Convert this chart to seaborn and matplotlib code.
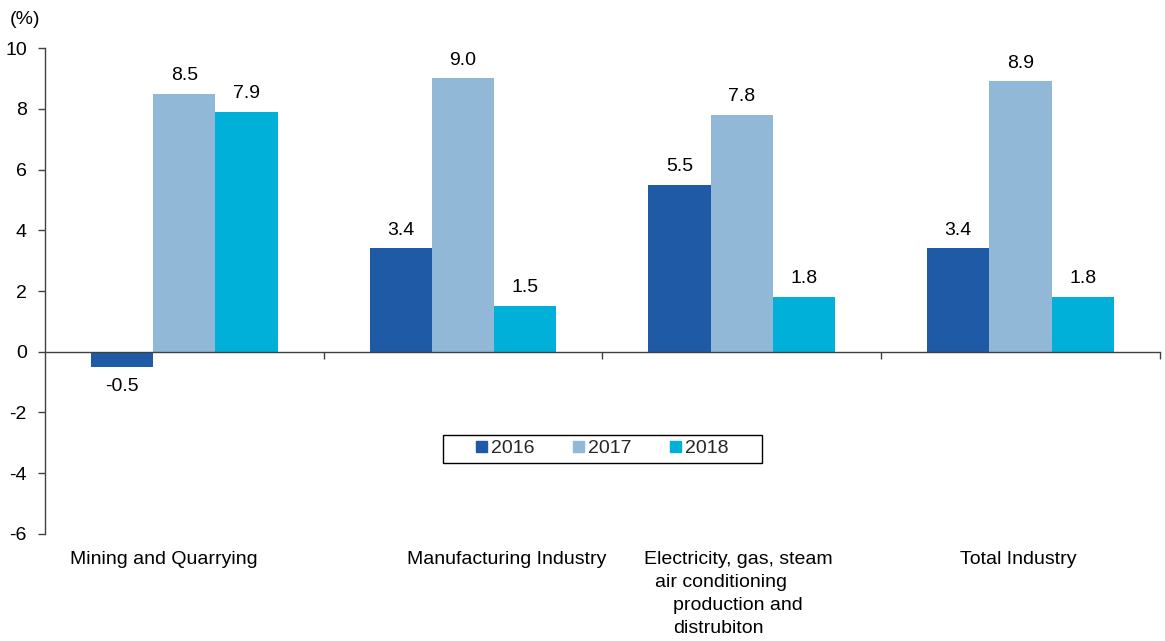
import numpy as np
import pandas as pd
import matplotlib
matplotlib.use("Agg")
import matplotlib.pyplot as plt
from matplotlib.patches import Patch, Rectangle
import seaborn as sns

# Growth rates by industry (%)
categories = ["Mining and Quarrying", "Manufacturing Industry",
              "Electricity, gas, steam", "Total Industry"]
years = ["2016", "2017", "2018"]
values_2016 = [-0.5, 3.4, 5.5, 3.4]
values_2017 = [8.5, 9.0, 7.8, 8.9]
values_2018 = [7.9, 1.5, 1.8, 1.8]
yticks = [-6, -4, -2, 0, 2, 4, 6, 8, 10]

# Category captions under the axis: (line text, left edge in axis units)
caption_lines = [
    [("Mining and Quarrying", -0.41)],
    [("Manufacturing Industry", 0.80)],
    [("Electricity, gas, steam", 1.65),
     ("air conditioning", 1.687),
     ("production and", 1.752),
     ("distrubiton", 1.752)],
    [("Total Industry", 2.782)],
]

colors = ["#1e5aa6", "#92b8d8", "#00b0d8"]
FS = 14

sns.set_theme(style="white")
plt.rcParams["font.family"] = ["Liberation Sans", "DejaVu Sans"]

df = pd.DataFrame({
    "category": np.repeat(categories, 3),
    "year": years * len(categories),
    "value": [v for trio in zip(values_2016, values_2017, values_2018) for v in trio],
})

fig = plt.figure(figsize=(11.65, 6.41), dpi=100)
ax = fig.add_axes([0.0386, 0.167, 0.957, 0.758])

sns.barplot(data=df, x="category", y="value", hue="year", order=categories,
            hue_order=years, palette=colors, width=0.67, saturation=1,
            gap=0, errorbar=None, ax=ax, linewidth=0, legend=False)

# Value labels
for container in ax.containers:
    for bar in container:
        h = bar.get_height()
        xc = bar.get_x() + bar.get_width() / 2
        if h >= 0:
            ax.annotate(f"{h:.1f}", (xc, h), xytext=(0, 7), textcoords="offset points",
                        ha="center", va="bottom", fontsize=FS, color="black")
        else:
            ax.annotate(f"{h:.1f}", (xc, h), xytext=(0, -8), textcoords="offset points",
                        ha="center", va="top", fontsize=FS, color="black")

ax.set_ylim(-6, 10)
ax.set_xlim(-0.5, 3.5)
ax.set_yticks(yticks)
ax.set_yticklabels([str(t) for t in yticks], fontsize=FS, color="black")
ax.set_xlabel("")
ax.set_ylabel("")

# Axis line through zero with separators between categories
ax.spines["bottom"].set_position(("data", 0))
ax.spines["top"].set_visible(False)
ax.spines["right"].set_visible(False)
for s in ("left", "bottom"):
    ax.spines[s].set_color("#404040")
    ax.spines[s].set_linewidth(1.0)
ax.set_xticks([0.5, 1.5, 2.5, 3.5])
ax.set_xticklabels([])
ax.tick_params(axis="x", direction="out", length=5, width=1, color="#404040", bottom=True)
ax.tick_params(axis="y", direction="out", length=5, width=1, color="#404040", left=True, pad=8)

# Category captions under the plot
trans = matplotlib.transforms.blended_transform_factory(ax.transData, ax.transAxes)
for i, lines in enumerate(caption_lines):
    for j, (txt, x0) in enumerate(lines):
        ax.text(x0, -0.036 - j * 0.0473, txt, transform=trans, ha="left",
                va="top", fontsize=FS, color="black")

# Unit label
fig.text(0.008, 0.97, "(%)", fontsize=FS, ha="left", va="center", color="black")

# Legend
handles = [Patch(color=c) for c in colors]
leg = ax.legend(handles, years, loc="center", bbox_to_anchor=(1.5, -3.2),
                bbox_transform=ax.transData, ncol=3, frameon=False, fontsize=FS,
                handlelength=0.55, handleheight=0.55, handletextpad=0.2,
                columnspacing=2.0, borderpad=0.3)

# Frame around the legend, wider than the entries
fig.canvas.draw()
bb = leg.get_window_extent().transformed(fig.transFigure.inverted())
padx = 28 / fig.bbox.width
fig.add_artist(Rectangle((bb.x0 - padx, bb.y0), bb.width + 2 * padx, bb.height,
                         transform=fig.transFigure, fill=False, edgecolor="black",
                         linewidth=1.0))

fig.savefig("out.png", dpi=100, facecolor="white")
